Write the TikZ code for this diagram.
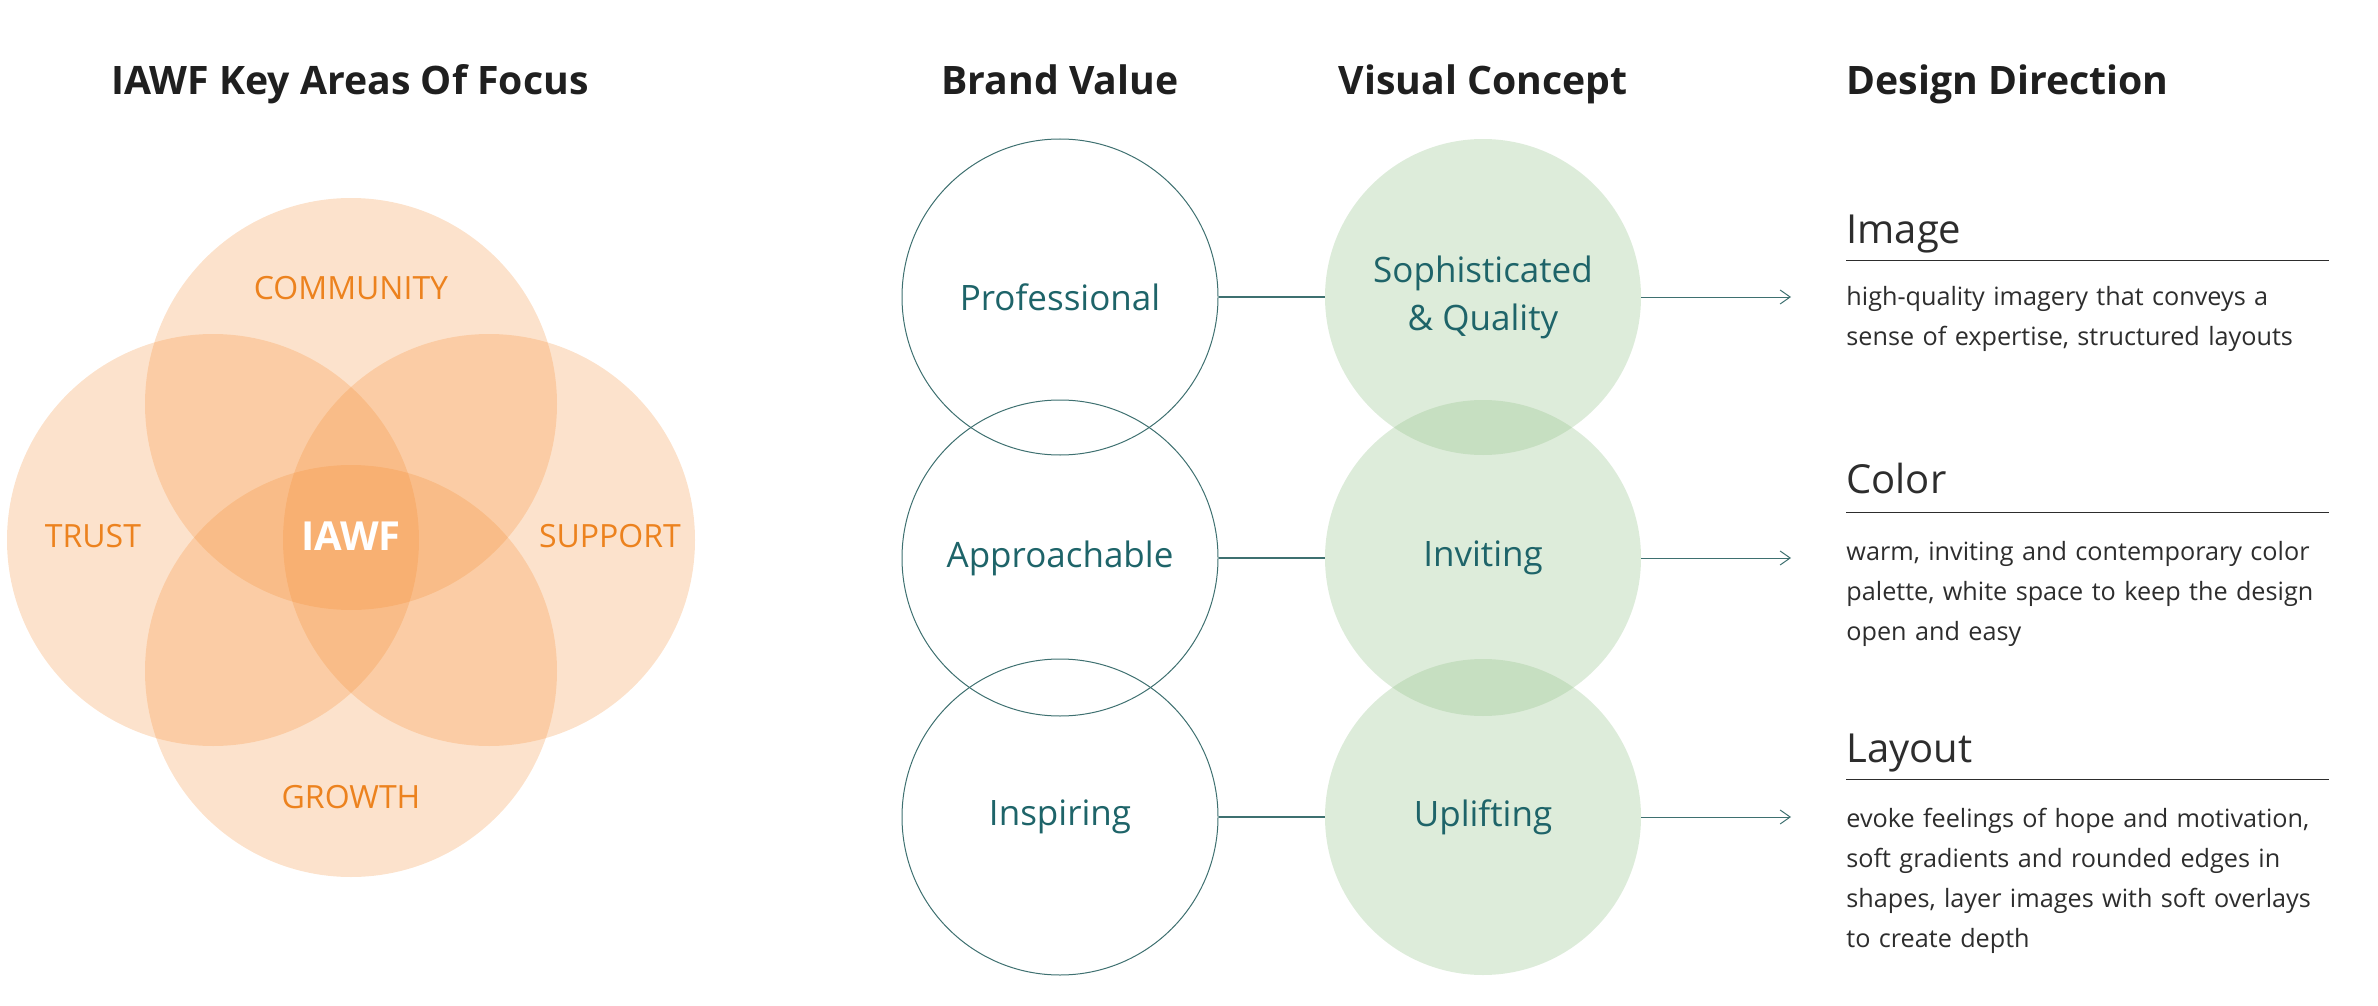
\documentclass[tikz,border=0pt]{standalone}
\usepackage{fontspec}
\setmainfont{Open Sans}
\setsansfont{Open Sans}
\usetikzlibrary{positioning,arrows.meta}

\definecolor{iawforange}{RGB}{245,140,50}
\definecolor{iawftext}{RGB}{236,130,30}
\definecolor{tealtext}{RGB}{30,100,105}
\definecolor{tealline}{RGB}{62,112,112}
\definecolor{sage}{RGB}{150,195,140}
\definecolor{inkgray}{RGB}{45,45,45}

\begin{document}
\begin{tikzpicture}[
    x=0.5pt, y=-0.5pt,
    font=\sffamily,
    % Venn
    vennpetal/.style={circle, fill=iawforange, fill opacity=0.25, minimum size=206pt, inner sep=0pt},
    venntext/.style={text=iawftext, font=\sffamily\fontsize{16}{18}\selectfont},
    % Spalten
    coltitle/.style={anchor=base, inner sep=0pt, text=black!88, font=\sffamily\bfseries\fontsize{19.6}{22}\selectfont},
    valuering/.style={circle, draw=tealline, line width=0.5pt, minimum size=158pt, inner sep=0pt, text=tealtext, align=center, font=\sffamily\fontsize{17.5}{24}\selectfont},
    conceptdisc/.style={circle, fill=sage, fill opacity=0.32, text opacity=1, minimum size=158pt, inner sep=0pt, text=tealtext, align=center, font=\sffamily\fontsize{17.5}{24}\selectfont},
    link/.style={draw=tealline, line width=0.9pt},
    pointer/.style={draw=tealline, line width=0.5pt, -{Straight Barb[length=5pt, width=7pt]}},
    dirhead/.style={anchor=base west, inner sep=0pt, text=inkgray, font=\sffamily\fontsize{20}{24}\selectfont},
    dirtext/.style={anchor=north west, inner sep=0pt, text width=260pt, align=left, text=inkgray, font=\sffamily\fontsize{12.6}{20}\selectfont},
    rule/.style={draw=inkgray, line width=0.5pt}
]
    \useasboundingbox (0,0) rectangle (2378,1006);

    % ==========================================
    % IAWF Venn
    % ==========================================
    \node[coltitle] (venntitle) at (350,95) {IAWF Key Areas Of Focus};

    \node[vennpetal] (community) at (351,404) {};
    \node[vennpetal] (trust) at (213,540) {};
    \node[vennpetal] (support) at (489,540) {};
    \node[vennpetal] (growth) at (351,671) {};

    \node[venntext] (communitylbl) at (351,288) {COMMUNITY};
    \node[venntext] (trustlbl) at (93,536) {TRUST};
    \node[venntext] (supportlbl) at (610,536) {SUPPORT};
    \node[venntext] (growthlbl) at (351,797) {GROWTH};
    \node[text=white, font=\sffamily\bfseries\fontsize{20}{22}\selectfont] (core) at (351,536) {IAWF};

    % ==========================================
    % Brand Value / Visual Concept
    % ==========================================
    \node[coltitle] (valuetitle) at (1060,95) {Brand Value};
    \node[coltitle] (concepttitle) at (1483,95) {Visual Concept};

    \node[valuering] (prof) at (1060,297) {Professional};
    \node[valuering] (appr) at (1060,558) {Approachable};
    \node[valuering] (insp) at (1060,817) {Inspiring};

    \node[conceptdisc] (soph) at (1483,297) {Sophisticated\\ \& Quality};
    \node[conceptdisc] (invit) at (1483,558) {Inviting};
    \node[conceptdisc] (uplift) at (1483,817) {Uplifting};

    \draw[link] (prof) -- (soph);
    \draw[link] (appr) -- (invit);
    \draw[link] (insp) -- (uplift);

    % ==========================================
    % Design Direction
    % ==========================================
    \node[coltitle, anchor=base west] (dirtitle) at (1846,95) {Design Direction};

    \coordinate (imgtip) at (1791,297);
    \coordinate (coltip) at (1791,558);
    \coordinate (laytip) at (1791,817);
    \draw[pointer] (soph) -- (imgtip);
    \draw[pointer] (invit) -- (coltip);
    \draw[pointer] (uplift) -- (laytip);

    \node[dirhead] (imghead) at (1846,243) {Image};
    \draw[rule] (1846,260) -- (2329,260);
    \node[dirtext] (imgtext) at (1846,286) {high-quality imagery that conveys a\\ sense of expertise, structured layouts};

    \node[dirhead] (colhead) at (1846,493) {Color};
    \draw[rule] (1846,512) -- (2329,512);
    \node[dirtext] (coltext) at (1846,541) {warm, inviting and contemporary color\\ palette, white space to keep the design\\ open and easy};

    \node[dirhead] (layhead) at (1846,762) {Layout};
    \draw[rule] (1846,779) -- (2329,779);
    \node[dirtext] (laytext) at (1846,808) {evoke feelings of hope and motivation,\\ soft gradients and rounded edges in\\ shapes, layer images with soft overlays\\ to create depth};

\end{tikzpicture}
\end{document}
